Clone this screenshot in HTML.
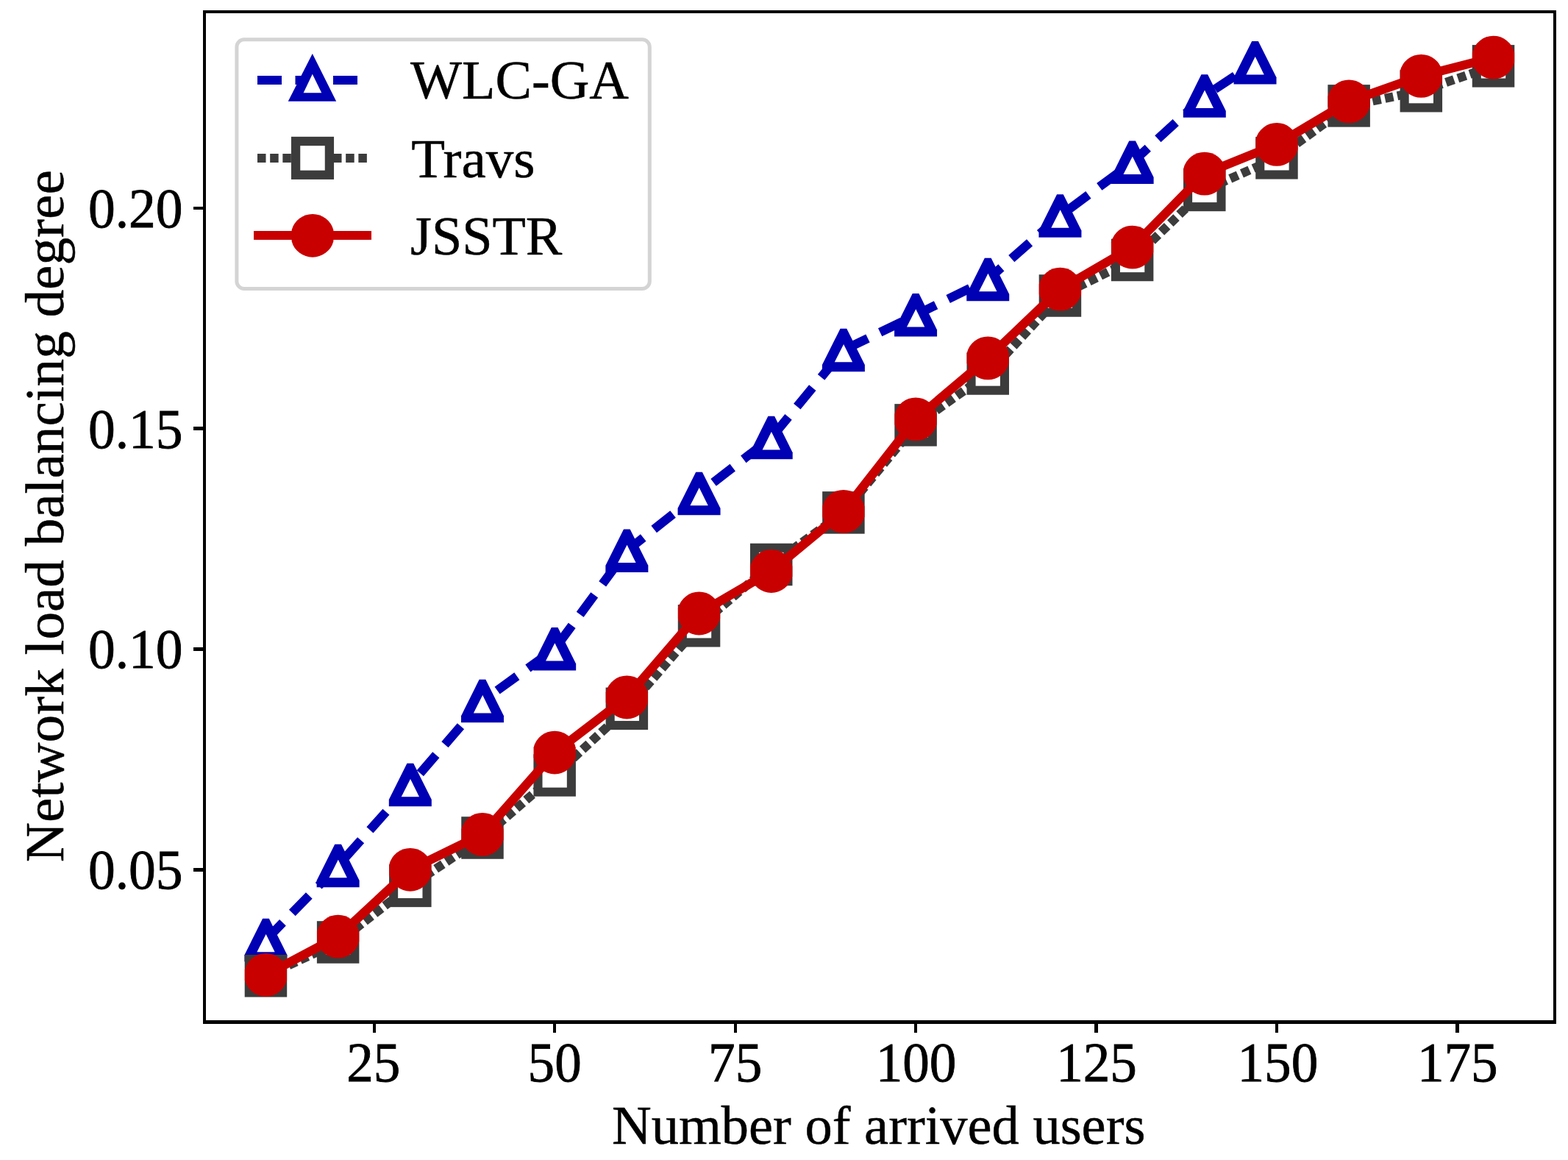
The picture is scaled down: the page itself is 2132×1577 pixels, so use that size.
<!DOCTYPE html>
<html lang="en"><head><meta charset="utf-8"><title>Network load balancing degree</title>
<style>html,body{margin:0;padding:0;background:#fff}body{width:2132px;height:1577px;overflow:hidden}svg{display:block}text{font-family:"Liberation Serif",serif;font-size:75px;fill:#000}</style>
</head><body>
<svg width="2132" height="1577" viewBox="0 0 2132 1577">
<rect width="2132" height="1577" fill="#fff"/>
<g id="wlc">
<polyline points="361.45,1278.05 459.63,1176.90 557.81,1067.00 655.99,953.10 754.17,882.30 852.35,748.75 950.53,670.95 1048.71,595.10 1146.89,476.00 1245.07,428.30 1343.25,379.90 1441.43,293.40 1539.61,220.80 1637.79,130.60 1706.52,85.15" fill="none" stroke="#0000b4" stroke-width="12.2" stroke-dasharray="33 18.5" stroke-linejoin="round"/>
<polygon points="357.10,1248.80 365.80,1248.80 390.45,1298.15 390.45,1307.30 332.45,1307.30 332.45,1298.15" fill="#0000b4"/><polygon points="361.65,1270.00 373.65,1294.35 349.35,1294.35" fill="#fff"/>
<polygon points="455.28,1147.65 463.98,1147.65 488.63,1197.00 488.63,1206.15 430.63,1206.15 430.63,1197.00" fill="#0000b4"/><polygon points="459.83,1168.85 471.83,1193.20 447.53,1193.20" fill="#fff"/>
<polygon points="553.46,1037.75 562.16,1037.75 586.81,1087.10 586.81,1096.25 528.81,1096.25 528.81,1087.10" fill="#0000b4"/><polygon points="558.01,1058.95 570.01,1083.30 545.71,1083.30" fill="#fff"/>
<polygon points="651.64,923.85 660.34,923.85 684.99,973.20 684.99,982.35 626.99,982.35 626.99,973.20" fill="#0000b4"/><polygon points="656.19,945.05 668.19,969.40 643.89,969.40" fill="#fff"/>
<polygon points="749.82,853.05 758.52,853.05 783.17,902.40 783.17,911.55 725.17,911.55 725.17,902.40" fill="#0000b4"/><polygon points="754.37,874.25 766.37,898.60 742.07,898.60" fill="#fff"/>
<polygon points="848.00,719.50 856.70,719.50 881.35,768.85 881.35,778.00 823.35,778.00 823.35,768.85" fill="#0000b4"/><polygon points="852.55,740.70 864.55,765.05 840.25,765.05" fill="#fff"/>
<polygon points="946.18,641.70 954.88,641.70 979.53,691.05 979.53,700.20 921.53,700.20 921.53,691.05" fill="#0000b4"/><polygon points="950.73,662.90 962.73,687.25 938.43,687.25" fill="#fff"/>
<polygon points="1044.36,565.85 1053.06,565.85 1077.71,615.20 1077.71,624.35 1019.71,624.35 1019.71,615.20" fill="#0000b4"/><polygon points="1048.91,587.05 1060.91,611.40 1036.61,611.40" fill="#fff"/>
<polygon points="1142.54,446.75 1151.24,446.75 1175.89,496.10 1175.89,505.25 1117.89,505.25 1117.89,496.10" fill="#0000b4"/><polygon points="1147.09,467.95 1159.09,492.30 1134.79,492.30" fill="#fff"/>
<polygon points="1240.72,399.05 1249.42,399.05 1274.07,448.40 1274.07,457.55 1216.07,457.55 1216.07,448.40" fill="#0000b4"/><polygon points="1245.27,420.25 1257.27,444.60 1232.97,444.60" fill="#fff"/>
<polygon points="1338.90,350.65 1347.60,350.65 1372.25,400.00 1372.25,409.15 1314.25,409.15 1314.25,400.00" fill="#0000b4"/><polygon points="1343.45,371.85 1355.45,396.20 1331.15,396.20" fill="#fff"/>
<polygon points="1437.08,264.15 1445.78,264.15 1470.43,313.50 1470.43,322.65 1412.43,322.65 1412.43,313.50" fill="#0000b4"/><polygon points="1441.63,285.35 1453.63,309.70 1429.33,309.70" fill="#fff"/>
<polygon points="1535.26,191.55 1543.96,191.55 1568.61,240.90 1568.61,250.05 1510.61,250.05 1510.61,240.90" fill="#0000b4"/><polygon points="1539.81,212.75 1551.81,237.10 1527.51,237.10" fill="#fff"/>
<polygon points="1633.44,101.35 1642.14,101.35 1666.79,150.70 1666.79,159.85 1608.79,159.85 1608.79,150.70" fill="#0000b4"/><polygon points="1637.99,122.55 1649.99,146.90 1625.69,146.90" fill="#fff"/>
<polygon points="1702.17,55.90 1710.87,55.90 1735.52,105.25 1735.52,114.40 1677.52,114.40 1677.52,105.25" fill="#0000b4"/><polygon points="1706.72,77.10 1718.72,101.45 1694.42,101.45" fill="#fff"/>
</g>
<g id="travs">
<polyline points="361.45,1326.75 459.63,1280.95 557.81,1204.40 655.99,1139.00 754.17,1054.00 852.35,963.40 950.53,850.80 1048.71,767.50 1146.89,696.90 1245.07,577.90 1343.25,508.00 1441.43,402.00 1539.61,353.50 1637.79,258.45 1735.97,214.80 1834.15,143.90 1932.33,123.70 2030.51,89.85" fill="none" stroke="#3c3c3c" stroke-width="12.2" stroke-dasharray="11.5 5.67" stroke-linejoin="round"/>
<rect x="332.70" y="1298.00" width="57.50" height="57.50" fill="#3c3c3c"/><rect x="344.80" y="1310.10" width="33.30" height="33.30" fill="#fff"/>
<rect x="430.88" y="1252.20" width="57.50" height="57.50" fill="#3c3c3c"/><rect x="442.98" y="1264.30" width="33.30" height="33.30" fill="#fff"/>
<rect x="529.06" y="1175.65" width="57.50" height="57.50" fill="#3c3c3c"/><rect x="541.16" y="1187.75" width="33.30" height="33.30" fill="#fff"/>
<rect x="627.24" y="1110.25" width="57.50" height="57.50" fill="#3c3c3c"/><rect x="639.34" y="1122.35" width="33.30" height="33.30" fill="#fff"/>
<rect x="725.42" y="1025.25" width="57.50" height="57.50" fill="#3c3c3c"/><rect x="737.52" y="1037.35" width="33.30" height="33.30" fill="#fff"/>
<rect x="823.60" y="934.65" width="57.50" height="57.50" fill="#3c3c3c"/><rect x="835.70" y="946.75" width="33.30" height="33.30" fill="#fff"/>
<rect x="921.78" y="822.05" width="57.50" height="57.50" fill="#3c3c3c"/><rect x="933.88" y="834.15" width="33.30" height="33.30" fill="#fff"/>
<rect x="1019.96" y="738.75" width="57.50" height="57.50" fill="#3c3c3c"/><rect x="1032.06" y="750.85" width="33.30" height="33.30" fill="#fff"/>
<rect x="1118.14" y="668.15" width="57.50" height="57.50" fill="#3c3c3c"/><rect x="1130.24" y="680.25" width="33.30" height="33.30" fill="#fff"/>
<rect x="1216.32" y="549.15" width="57.50" height="57.50" fill="#3c3c3c"/><rect x="1228.42" y="561.25" width="33.30" height="33.30" fill="#fff"/>
<rect x="1314.50" y="479.25" width="57.50" height="57.50" fill="#3c3c3c"/><rect x="1326.60" y="491.35" width="33.30" height="33.30" fill="#fff"/>
<rect x="1412.68" y="373.25" width="57.50" height="57.50" fill="#3c3c3c"/><rect x="1424.78" y="385.35" width="33.30" height="33.30" fill="#fff"/>
<rect x="1510.86" y="324.75" width="57.50" height="57.50" fill="#3c3c3c"/><rect x="1522.96" y="336.85" width="33.30" height="33.30" fill="#fff"/>
<rect x="1609.04" y="229.70" width="57.50" height="57.50" fill="#3c3c3c"/><rect x="1621.14" y="241.80" width="33.30" height="33.30" fill="#fff"/>
<rect x="1707.22" y="186.05" width="57.50" height="57.50" fill="#3c3c3c"/><rect x="1719.32" y="198.15" width="33.30" height="33.30" fill="#fff"/>
<rect x="1805.40" y="115.15" width="57.50" height="57.50" fill="#3c3c3c"/><rect x="1817.50" y="127.25" width="33.30" height="33.30" fill="#fff"/>
<rect x="1903.58" y="94.95" width="57.50" height="57.50" fill="#3c3c3c"/><rect x="1915.68" y="107.05" width="33.30" height="33.30" fill="#fff"/>
<rect x="2001.76" y="61.10" width="57.50" height="57.50" fill="#3c3c3c"/><rect x="2013.86" y="73.20" width="33.30" height="33.30" fill="#fff"/>
</g>
<g id="jsstr">
<polyline points="361.45,1325.40 459.63,1273.20 557.81,1182.30 655.99,1134.35 754.17,1023.05 852.35,948.00 950.53,834.00 1048.71,776.50 1146.89,695.40 1245.07,569.90 1343.25,486.90 1441.43,393.20 1539.61,336.10 1637.79,236.10 1735.97,196.45 1834.15,137.90 1932.33,103.35 2030.51,78.20" fill="none" stroke="#c80000" stroke-width="12.2" stroke-linejoin="round" stroke-linecap="square"/>
<path d="M390.05 1318.59A29.4 29.4 0 0 0 332.85 1318.59L332.85 1332.21A29.4 29.4 0 0 0 390.05 1332.21Z" fill="#c80000"/>
<path d="M488.23 1266.39A29.4 29.4 0 0 0 431.03 1266.39L431.03 1280.01A29.4 29.4 0 0 0 488.23 1280.01Z" fill="#c80000"/>
<path d="M586.41 1175.49A29.4 29.4 0 0 0 529.21 1175.49L529.21 1189.11A29.4 29.4 0 0 0 586.41 1189.11Z" fill="#c80000"/>
<path d="M684.59 1127.54A29.4 29.4 0 0 0 627.39 1127.54L627.39 1141.16A29.4 29.4 0 0 0 684.59 1141.16Z" fill="#c80000"/>
<path d="M782.77 1016.24A29.4 29.4 0 0 0 725.57 1016.24L725.57 1029.86A29.4 29.4 0 0 0 782.77 1029.86Z" fill="#c80000"/>
<path d="M880.95 941.19A29.4 29.4 0 0 0 823.75 941.19L823.75 954.81A29.4 29.4 0 0 0 880.95 954.81Z" fill="#c80000"/>
<path d="M979.13 827.19A29.4 29.4 0 0 0 921.93 827.19L921.93 840.81A29.4 29.4 0 0 0 979.13 840.81Z" fill="#c80000"/>
<path d="M1077.31 769.69A29.4 29.4 0 0 0 1020.11 769.69L1020.11 783.31A29.4 29.4 0 0 0 1077.31 783.31Z" fill="#c80000"/>
<path d="M1175.49 688.59A29.4 29.4 0 0 0 1118.29 688.59L1118.29 702.21A29.4 29.4 0 0 0 1175.49 702.21Z" fill="#c80000"/>
<path d="M1273.67 563.09A29.4 29.4 0 0 0 1216.47 563.09L1216.47 576.71A29.4 29.4 0 0 0 1273.67 576.71Z" fill="#c80000"/>
<path d="M1371.85 480.09A29.4 29.4 0 0 0 1314.65 480.09L1314.65 493.71A29.4 29.4 0 0 0 1371.85 493.71Z" fill="#c80000"/>
<path d="M1470.03 386.39A29.4 29.4 0 0 0 1412.83 386.39L1412.83 400.01A29.4 29.4 0 0 0 1470.03 400.01Z" fill="#c80000"/>
<path d="M1568.21 329.29A29.4 29.4 0 0 0 1511.01 329.29L1511.01 342.91A29.4 29.4 0 0 0 1568.21 342.91Z" fill="#c80000"/>
<path d="M1666.39 229.29A29.4 29.4 0 0 0 1609.19 229.29L1609.19 242.91A29.4 29.4 0 0 0 1666.39 242.91Z" fill="#c80000"/>
<path d="M1764.57 189.64A29.4 29.4 0 0 0 1707.37 189.64L1707.37 203.26A29.4 29.4 0 0 0 1764.57 203.26Z" fill="#c80000"/>
<path d="M1862.75 131.09A29.4 29.4 0 0 0 1805.55 131.09L1805.55 144.71A29.4 29.4 0 0 0 1862.75 144.71Z" fill="#c80000"/>
<path d="M1960.93 96.54A29.4 29.4 0 0 0 1903.73 96.54L1903.73 110.16A29.4 29.4 0 0 0 1960.93 110.16Z" fill="#c80000"/>
<path d="M2059.11 71.39A29.4 29.4 0 0 0 2001.91 71.39L2001.91 85.01A29.4 29.4 0 0 0 2059.11 85.01Z" fill="#c80000"/>
</g>
<g id="axes" fill="#000">
<rect x="276" y="14" width="1840" height="4"/>
<rect x="276" y="1387" width="1840" height="5"/>
<rect x="276" y="14" width="4" height="1378"/>
<rect x="2112" y="14" width="4" height="1378"/>
<rect x="507" y="1389" width="4" height="15"/>
<rect x="752" y="1389" width="4" height="15"/>
<rect x="998" y="1389" width="4" height="15"/>
<rect x="1243" y="1389" width="4" height="15"/>
<rect x="1488" y="1389" width="5" height="15"/>
<rect x="1734" y="1389" width="4" height="15"/>
<rect x="1979" y="1389" width="5" height="15"/>
<rect x="263" y="281" width="14" height="4"/>
<rect x="263" y="580" width="14" height="5"/>
<rect x="263" y="880" width="14" height="5"/>
<rect x="263" y="1180" width="14" height="5"/>
</g>
<g id="xticklabels" text-anchor="middle">
<text transform="translate(507.72 1469.90) scale(0.9750 1.0120)" text-anchor="middle" stroke="#000" stroke-width="0.8">25</text>
<text transform="translate(754.17 1469.90) scale(0.9750 1.0120)" text-anchor="middle" stroke="#000" stroke-width="0.8">50</text>
<text transform="translate(999.62 1469.90) scale(0.9750 1.0120)" text-anchor="middle" stroke="#000" stroke-width="0.8">75</text>
<text transform="translate(1245.57 1469.90) scale(0.9750 1.0120)" text-anchor="middle" stroke="#000" stroke-width="0.8">100</text>
<text transform="translate(1491.02 1469.90) scale(0.9750 1.0120)" text-anchor="middle" stroke="#000" stroke-width="0.8">125</text>
<text transform="translate(1737.37 1469.90) scale(0.9750 1.0120)" text-anchor="middle" stroke="#000" stroke-width="0.8">150</text>
<text transform="translate(1981.72 1469.90) scale(0.9750 1.0120)" text-anchor="middle" stroke="#000" stroke-width="0.8">175</text>
</g>
<g id="yticklabels" text-anchor="end">
<text transform="translate(248.60 308.50) scale(0.9800 1.0150)" text-anchor="end" stroke="#000" stroke-width="0.8">0.20</text>
<text transform="translate(248.60 608.70) scale(0.9800 1.0150)" text-anchor="end" stroke="#000" stroke-width="0.8">0.15</text>
<text transform="translate(248.60 907.50) scale(0.9800 1.0150)" text-anchor="end" stroke="#000" stroke-width="0.8">0.10</text>
<text transform="translate(248.60 1207.50) scale(0.9800 1.0150)" text-anchor="end" stroke="#000" stroke-width="0.8">0.05</text>
</g>
<text transform="translate(1194.70 1555.30) scale(0.9925 1.0000)" text-anchor="middle" stroke="#000" stroke-width="0.5">Number of arrived users</text>
<text transform="translate(85.60 701.70) rotate(-90) scale(1.0020 1.0000)" text-anchor="middle" stroke="#000" stroke-width="0.5">Network load balancing degree</text>
<g id="legend">
<rect x="321.9" y="53.8" width="561.4" height="338.6" rx="10" ry="10" fill="#fff" stroke="#d4d4d4" stroke-width="5"/>
<line x1="350" y1="109" x2="500" y2="109" stroke="#0000b4" stroke-width="12.2" stroke-dasharray="33 18.5"/>
<polygon points="424.80,72.90 457.20,137.70 391.75,137.70" fill="#0000b4"/><polygon points="424.80,100.75 437.25,126.20 412.60,126.20" fill="#fff"/>
<text transform="translate(558.00 134.30) scale(0.9900 1.0000)" text-anchor="start" stroke="#000" stroke-width="0.5">WLC-GA</text>
<line x1="350" y1="215" x2="499" y2="215" stroke="#3c3c3c" stroke-width="12.2" stroke-dasharray="11.5 5.67"/>
<rect x="395.95" y="185.85" width="58.10" height="58.10" fill="#3c3c3c"/><rect x="408.25" y="198.15" width="33.50" height="33.50" fill="#fff"/>
<text transform="translate(559.30 240.80)" text-anchor="start" stroke="#000" stroke-width="0.5">Travs</text>
<line x1="345" y1="320" x2="505" y2="320" stroke="#c80000" stroke-width="12.2"/>
<path d="M453.40 312.70A29.4 29.4 0 0 0 396.60 312.70L396.60 327.90A29.4 29.4 0 0 0 453.40 327.90Z" fill="#c80000"/>
<text transform="translate(558.00 346.40) scale(0.9900 1.0000)" text-anchor="start" stroke="#000" stroke-width="0.5">JSSTR</text>
</g>
</svg></body></html>
